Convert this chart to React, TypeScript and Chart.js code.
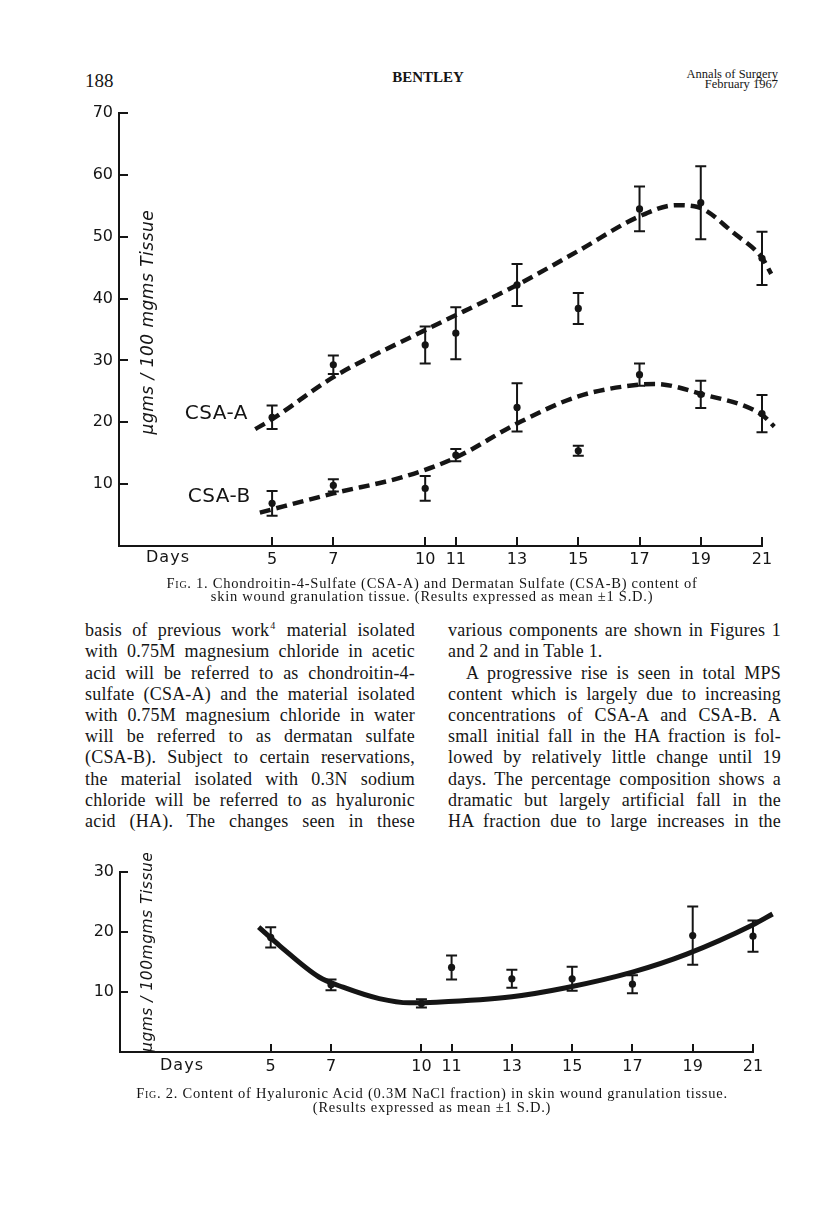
import React, { useEffect, useRef } from "react";
import { Chart, registerables } from "chart.js";

Chart.register(...registerables);

// ---------------- DATA ----------------
const days = [5, 7, 10, 11, 13, 15, 17, 19, 21];
const xTickDays = [5, 7, 10, 11, 13, 15, 17, 19, 21];

// Fig. 1 – CSA-A (chondroitin-4-sulfate), mean and 1 S.D.
const csaAMean = [20.8, 29.3, 32.5, 34.4, 42.2, 38.4, 54.5, 55.5, 46.5];
const csaASD = [1.9, 1.5, 3.0, 4.2, 3.4, 2.5, 3.6, 5.9, 4.3];
// Fig. 1 – CSA-B (dermatan sulfate), mean and 1 S.D.
const csaBMean = [6.9, 9.8, 9.3, 14.7, 22.4, 15.4, 27.7, 24.5, 21.4];
const csaBSD = [2.0, 1.0, 2.0, 1.0, 3.9, 0.8, 1.8, 2.2, 3.0];

// Fig. 1 – hand-drawn fitted curves
const csaACurveDays = [4.45, 5, 7, 10, 13, 15, 17, 18.2, 18.9, 20.1, 21, 21.3];
const csaACurveValues = [18.9, 20.5, 27.3, 34.9, 42.2, 47.7, 53.3, 55.1, 54.8, 50.5, 46.6, 44.0];
const csaBCurveDays = [4.6, 7, 9.3, 11, 13, 15, 17, 17.5, 19, 21, 21.4];
const csaBCurveValues = [5.4, 8.5, 11.2, 14.3, 19.8, 24.2, 26.1, 26.2, 24.6, 21.2, 19.3];

// Fig. 2 – hyaluronic acid, mean and 1 S.D.
const haMean = [19.1, 11.2, 8.1, 14.1, 12.2, 12.2, 11.3, 19.4, 19.3];
const haSD = [1.7, 0.9, 0.7, 2.0, 1.5, 2.0, 1.5, 4.85, 2.6];
const haCurveDays = [4.6, 5.3, 6.6, 7.4, 8.6, 9.6, 10.5, 13, 14.8, 17, 18.8, 21, 21.65];
const haCurveValues = [20.8, 17.7, 12.5, 10.8, 8.9, 8.2, 8.3, 9.2, 10.7, 13.3, 16.3, 21.2, 23.0];

const fig1YTicks = [10, 20, 30, 40, 50, 60, 70];
const fig2YTicks = [10, 20, 30];
const X_MIN = 0;
const X_MAX = 21;

// ---------------- STYLE ----------------
const INK = "#151515";
const SANS = "'DejaVu Sans', 'Liberation Sans', sans-serif";
const SERIF = "'Liberation Serif', 'Times New Roman', serif";

const zip = (xs: number[], ys: number[]) => xs.map((x, i) => ({ x, y: ys[i] }));

const decorPlugin = {
  id: "decor",
  afterDatasetsDraw(chart: any, _args: any, opts: any) {
    const { ctx, chartArea: a, scales } = chart;
    const x = scales.x;
    const y = scales.y;
    ctx.save();
    ctx.strokeStyle = INK;
    ctx.fillStyle = INK;
    ctx.lineCap = "butt";
    // error bars (mean ± 1 S.D.)
    chart.data.datasets.forEach((ds: any) => {
      if (!ds.sd) return;
      ctx.lineWidth = 2;
      ds.data.forEach((p: any, j: number) => {
        const px = x.getPixelForValue(p.x);
        const t = y.getPixelForValue(p.y + ds.sd[j]);
        const b = y.getPixelForValue(p.y - ds.sd[j]);
        const c = opts.cap;
        ctx.beginPath();
        ctx.moveTo(px, t);
        ctx.lineTo(px, b);
        ctx.moveTo(px - c, t);
        ctx.lineTo(px + c, t);
        ctx.moveTo(px - c, b);
        ctx.lineTo(px + c, b);
        ctx.stroke();
      });
    });
    // inward tick marks
    ctx.lineWidth = 2;
    ctx.beginPath();
    x.ticks.forEach((t: any) => {
      const px = Math.round(x.getPixelForValue(t.value));
      ctx.moveTo(px, a.bottom);
      ctx.lineTo(px, a.bottom - opts.tickLen);
    });
    y.ticks.forEach((t: any) => {
      const py = Math.round(y.getPixelForValue(t.value));
      ctx.moveTo(a.left, py);
      ctx.lineTo(a.left + opts.tickLen, py);
    });
    ctx.stroke();
    // "Days"
    ctx.font = opts.daysFont;
    ctx.textAlign = "center";
    ctx.textBaseline = "middle";
    (ctx as any).letterSpacing = "1px";
    ctx.fillText(opts.daysText, a.left + opts.daysOffset, a.bottom + opts.daysDrop);
    // series labels
    (opts.labels || []).forEach((l: any) => {
      ctx.font = opts.labelFont;
      ctx.textAlign = "right";
      ctx.textBaseline = "middle";
      (ctx as any).letterSpacing = "0.5px";
      ctx.fillText(l.text, x.getPixelForValue(l.day), y.getPixelForValue(l.value));
    });
    // rotated y title inside the plot
    (ctx as any).letterSpacing = "0.5px";
    ctx.save();
    ctx.translate(a.left + opts.titleOffset, y.getPixelForValue(opts.titleCenter));
    ctx.rotate(-Math.PI / 2);
    ctx.font = opts.titleFont;
    ctx.textAlign = "center";
    ctx.textBaseline = "middle";
    ctx.fillText(opts.title, 0, 0);
    ctx.restore();
    ctx.restore();
  },
};

function curveDataset(xs: number[], ys: number[], dash: number[], width: number) {
  return {
    data: zip(xs, ys),
    showLine: true,
    borderColor: INK,
    borderWidth: width,
    borderDash: dash,
    borderCapStyle: "butt",
    pointRadius: 0,
    cubicInterpolationMode: "monotone",
    clip: false,
    fill: false,
  };
}

function pointDataset(xs: number[], ys: number[], sd: number[]) {
  return {
    data: zip(xs, ys),
    sd,
    showLine: false,
    pointRadius: 3.6,
    pointBackgroundColor: INK,
    pointBorderWidth: 0,
    clip: false,
  };
}

function makeConfig(p: any): any {
  const tickFont = { family: SANS, size: 16 };
  return {
    type: "scatter",
    data: { datasets: p.datasets },
    options: {
      responsive: false,
      animation: false,
      devicePixelRatio: 1,
      events: [],
      layout: { padding: p.padding },
      plugins: { legend: { display: false }, tooltip: { enabled: false }, decor: p.decor },
      scales: {
        x: {
          type: "linear",
          bounds: "data",
          grid: { display: false, drawTicks: false },
          border: { display: true, color: INK, width: 2 },
          // range fixed here (not via min/max) so curve ends past day 21 are still drawn
          afterDataLimits: (s: any) => {
            s.min = X_MIN;
            s.max = X_MAX;
          },
          afterBuildTicks: (s: any) => {
            s.min = X_MIN;
            s.max = X_MAX;
            s.ticks = xTickDays.map((v) => ({ value: v }));
          },
          afterFit: (s: any) => {
            s.height = p.xAxisHeight;
          },
          ticks: {
            autoSkip: false,
            maxRotation: 0,
            padding: p.xPad,
            color: INK,
            font: tickFont,
            callback: (v: any) => String(v),
          },
        },
        y: {
          type: "linear",
          min: 0,
          max: p.yMax,
          grid: { display: false, drawTicks: false },
          border: { display: true, color: INK, width: 2 },
          afterBuildTicks: (s: any) => {
            s.ticks = p.yTicks.map((v: number) => ({ value: v }));
          },
          afterFit: (s: any) => {
            s.width = p.yAxisWidth;
          },
          ticks: { padding: 6, color: INK, font: tickFont, callback: (v: any) => String(v) },
        },
      },
    },
    plugins: [decorPlugin],
  };
}

const fig1Config = () =>
  makeConfig({
    datasets: [
      curveDataset(csaACurveDays, csaACurveValues, [11, 6], 4.5),
      curveDataset(csaBCurveDays, csaBCurveValues, [11, 6], 4.5),
      pointDataset(days, csaAMean, csaASD),
      pointDataset(days, csaBMean, csaBSD),
    ],
    yMax: 70,
    yTicks: fig1YTicks,
    padding: { top: 23, right: 54, left: 0, bottom: 0 },
    yAxisWidth: 119,
    xAxisHeight: 44,
    xPad: 4,
    decor: {
      cap: 5.5,
      tickLen: 9,
      daysText: "Days",
      daysFont: `16px ${SANS}`,
      daysOffset: 49,
      daysDrop: 12,
      title: "μgms / 100 mgms Tissue",
      titleFont: `italic 17px ${SANS}`,
      titleOffset: 30,
      titleCenter: 36.2,
      labelFont: `20px ${SANS}`,
      labels: [
        { text: "CSA-A", day: 4.21, value: 21.3 },
        { text: "CSA-B", day: 4.3, value: 8.0 },
      ],
    },
  });

const fig2Config = () =>
  makeConfig({
    datasets: [curveDataset(haCurveDays, haCurveValues, [], 5), pointDataset(days, haMean, haSD)],
    yMax: 30,
    yTicks: fig2YTicks,
    padding: { top: 27, right: 63, left: 0, bottom: 0 },
    yAxisWidth: 120,
    xAxisHeight: 33,
    xPad: 5,
    decor: {
      cap: 5.5,
      tickLen: 8,
      daysText: "Days",
      daysFont: `16px ${SANS}`,
      daysOffset: 62,
      daysDrop: 14,
      title: "μgms / 100mgms Tissue",
      titleFont: `italic 15.5px ${SANS}`,
      titleOffset: 28,
      titleCenter: 16.7,
      labelFont: `20px ${SANS}`,
      labels: [],
    },
  });

function Figure({ config, top, width, height }: any) {
  const ref = useRef<HTMLCanvasElement>(null);
  useEffect(() => {
    const chart = new Chart(ref.current as HTMLCanvasElement, config());
    return () => chart.destroy();
  }, []);
  return (
    <canvas
      ref={ref}
      width={width}
      height={height}
      style={{ position: "absolute", left: 0, top, width, height }}
    />
  );
}

// text line positioned by its baseline
function TLine({
  x,
  w,
  baseline,
  size,
  children,
  align = "left",
  weight = "normal",
  ls = 0,
  right,
}: any) {
  const lh = Math.round(size * 1.3);
  const top = baseline - ((lh - 1.107 * size) / 2 + 0.891 * size);
  const style: any = {
    position: "absolute",
    top,
    fontFamily: SERIF,
    fontSize: size,
    lineHeight: `${lh}px`,
    height: lh,
    fontWeight: weight,
    letterSpacing: ls,
    color: INK,
    whiteSpace: "nowrap",
    textAlign: align,
    textAlignLast: align,
  };
  if (right !== undefined) {
    style.right = 816 - right;
  } else {
    style.left = x;
    if (w) style.width = w;
  }
  return <div style={style}>{children}</div>;
}

const sc = (t: string) => <span style={{ fontVariant: "small-caps" }}>{t}</span>;

const leftCol = [
  "basis of previous work",
  "with 0.75M magnesium chloride in acetic",
  "acid will be referred to as chondroitin-4-",
  "sulfate (CSA-A) and the material isolated",
  "with 0.75M magnesium chloride in water",
  "will be referred to as dermatan sulfate",
  "(CSA-B). Subject to certain reservations,",
  "the material isolated with 0.3N sodium",
  "chloride will be referred to as hyaluronic",
  "acid (HA). The changes seen in these",
];
const rightCol = [
  "various components are shown in Figures 1",
  "and 2 and in Table 1.",
  "A progressive rise is seen in total MPS",
  "content which is largely due to increasing",
  "concentrations of CSA-A and CSA-B. A",
  "small initial fall in the HA fraction is fol-",
  "lowed by relatively little change until 19",
  "days. The percentage composition shows a",
  "dramatic but largely artificial fall in the",
  "HA fraction due to large increases in the",
];

export default function App() {
  const bodySize = 18;
  const base0 = 636.7;
  const step = 21.2;
  return (
    <div
      style={{
        position: "absolute",
        left: 0,
        top: 0,
        width: 816,
        height: 1205,
        background: "#fff",
        overflow: "hidden",
      }}
    >
      {/* running head */}
      <TLine x={85} baseline={87.3} size={19}>
        188
      </TLine>
      <TLine x={378} w={100} baseline={81.7} size={15} weight="bold" align="center">
        BENTLEY
      </TLine>
      <TLine right={778} baseline={78.3} size={12.5} align="right">
        Annals of Surgery
      </TLine>
      <TLine right={778} baseline={88.3} size={12.5} align="right">
        February 1967
      </TLine>

      <Figure config={fig1Config} top={90} width={816} height={500} />

      {/* Fig. 1 caption */}
      <TLine x={32} w={800} baseline={588.3} size={14.5} align="center" ls={0.75}>
        F{sc("ig")}. 1. Chondroitin-4-Sulfate (CSA-A) and Dermatan Sulfate (CSA-B) content of
      </TLine>
      <TLine x={32} w={800} baseline={601.7} size={14.5} align="center" ls={0.75}>
        skin wound granulation tissue. (Results expressed as mean ±1 S.D.)
      </TLine>

      {/* body text */}
      {leftCol.map((t, i) => (
        <TLine key={"l" + i} x={85} w={330} baseline={base0 + step * i} size={bodySize} align="justify" ls={0.2}>
          {i === 0 ? (
            <>
              {t}
              <span style={{ fontSize: 10, position: "relative", top: -7, margin: "0 1px" }}>4</span> material
              isolated
            </>
          ) : (
            t
          )}
        </TLine>
      ))}
      {rightCol.map((t, i) => (
        <TLine
          key={"r" + i}
          x={i === 2 ? 466 : 448}
          w={i === 2 ? 315 : 333}
          baseline={base0 + step * i}
          size={bodySize}
          align={i === 1 ? "left" : "justify"}
          ls={0.2}
        >
          {t}
        </TLine>
      ))}

      <Figure config={fig2Config} top={845} width={816} height={240} />

      {/* Fig. 2 caption */}
      <TLine x={32} w={800} baseline={1098.3} size={14.5} align="center" ls={0.75}>
        F{sc("ig")}. 2. Content of Hyaluronic Acid (0.3M NaCl fraction) in skin wound granulation tissue.
      </TLine>
      <TLine x={32} w={800} baseline={1112.7} size={14.5} align="center" ls={0.75}>
        (Results expressed as mean ±1 S.D.)
      </TLine>
    </div>
  );
}
